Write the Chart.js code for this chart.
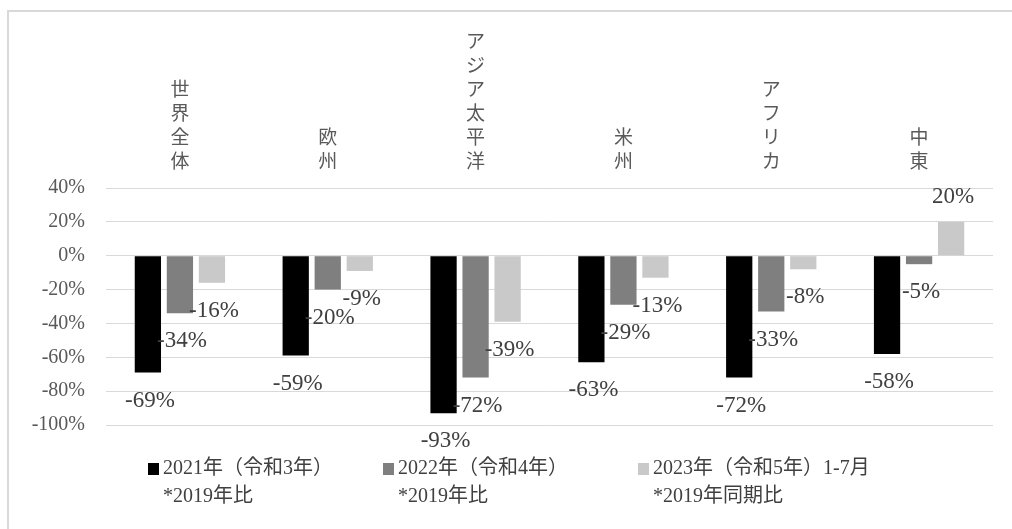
<!DOCTYPE html>
<html lang="ja">
<head>
  <meta charset="UTF-8">
  <title>地域別 国際観光客数の増減</title>
  <script src="https://cdn.jsdelivr.net/npm/chart.js"></script>
  <style>
    body { margin: 0; background: #fff; }
    .wrap { position: relative; width: 1012px; height: 529px; overflow: hidden; }
    .frame { position: absolute; left: 7px; top: 10px; width: 1100px; height: 600px;
             border-top: 2px solid #d9d9d9; border-left: 2px solid #d9d9d9; pointer-events: none; }
  </style>
</head>
<body>
  <div class="wrap">
    <canvas id="regionChart"></canvas>
    <div class="frame"></div>
  </div>

  <script>
    // 地域名（縦書きなので1文字ずつ）
    const regions = ['世界全体', '欧州', 'アジア太平洋', '米州', 'アフリカ', '中東'];
    const values2021 = [-69, -59, -93, -63, -72, -58];
    const values2022 = [-34, -20, -72, -29, -33, -5];
    const values2023 = [-16, -9, -39, -13, -8, 20];
    const seriesLine1 = ['2021年（令和3年）', '2022年（令和4年）', '2023年（令和5年）1-7月'];
    const seriesLine2 = ['*2019年比', '*2019年比', '*2019年同期比'];
    const seriesColors = ['#000000', '#7f7f7f', '#c9c9c9'];

    const serif = "'Liberation Serif', 'Noto Sans CJK JP', serif";
    const cjk = "'Noto Sans CJK JP', 'Liberation Serif', sans-serif";

    // 棒の外側にラベルを描く
    const valueLabels = {
      id: 'valueLabels',
      afterDatasetsDraw(chart) {
        const ctx = chart.ctx;
        ctx.save();
        ctx.font = '23px ' + serif;
        ctx.fillStyle = '#404040';
        ctx.textAlign = 'center';
        ctx.textBaseline = 'middle';
        chart.data.datasets.forEach((ds, i) => {
          chart.getDatasetMeta(i).data.forEach((bar, j) => {
            const v = ds.data[j];
            const y = v < 0 ? bar.y + 28 : bar.y - 25;
            ctx.fillText(v + '%', bar.x + 2, y);
          });
        });
        ctx.restore();
      }
    };

    // 2行の凡例
    const twoLineLegend = {
      id: 'twoLineLegend',
      afterDraw(chart) {
        const ctx = chart.ctx;
        const starts = [148, 383, 638];
        ctx.save();
        ctx.textBaseline = 'middle';
        ctx.textAlign = 'left';
        starts.forEach((x, i) => {
          ctx.fillStyle = seriesColors[i];
          ctx.fillRect(x, 463, 11, 12);
          ctx.fillStyle = '#404040';
          ctx.font = '20px ' + serif;
          ctx.fillText(seriesLine1[i], x + 15, 469);
          ctx.fillText(seriesLine2[i], x + 15, 497);
        });
        ctx.restore();
      }
    };

    const ctx = document.getElementById('regionChart').getContext('2d');
    new Chart(ctx, {
      type: 'bar',
      data: {
        labels: regions.map(r => r.split('')),
        datasets: [
          { label: seriesLine1[0], data: values2021, backgroundColor: seriesColors[0] },
          { label: seriesLine1[1], data: values2022, backgroundColor: seriesColors[1] },
          { label: seriesLine1[2], data: values2023, backgroundColor: seriesColors[2] }
        ]
      },
      options: {
        responsive: true,
        maintainAspectRatio: false,
        animation: false,
        categoryPercentage: 0.65,
        barPercentage: 0.82,
        layout: { padding: { top: 13, right: 19, bottom: 104, left: 10 } },
        plugins: { legend: { display: false }, tooltip: { enabled: false } },
        scales: {
          x: {
            position: 'top',
            grid: { display: false, drawTicks: false },
            border: { display: false },
            ticks: {
              maxRotation: 0, autoSkip: false, padding: 15,
              color: '#595959', font: { family: cjk, size: 19, lineHeight: 1.27 }
            },
            afterFit(scale) { scale.height = 175; }
          },
          y: {
            min: -100, max: 40,
            grid: { color: '#d9d9d9', lineWidth: 1, drawTicks: false },
            border: { display: false },
            ticks: {
              stepSize: 20, padding: 21,
              color: '#595959', font: { family: serif, size: 20 },
              callback: v => v + '%'
            },
            afterFit(scale) { scale.width = 96; }
          }
        }
      },
      plugins: [valueLabels, twoLineLegend]
    });
  </script>
</body>
</html>
